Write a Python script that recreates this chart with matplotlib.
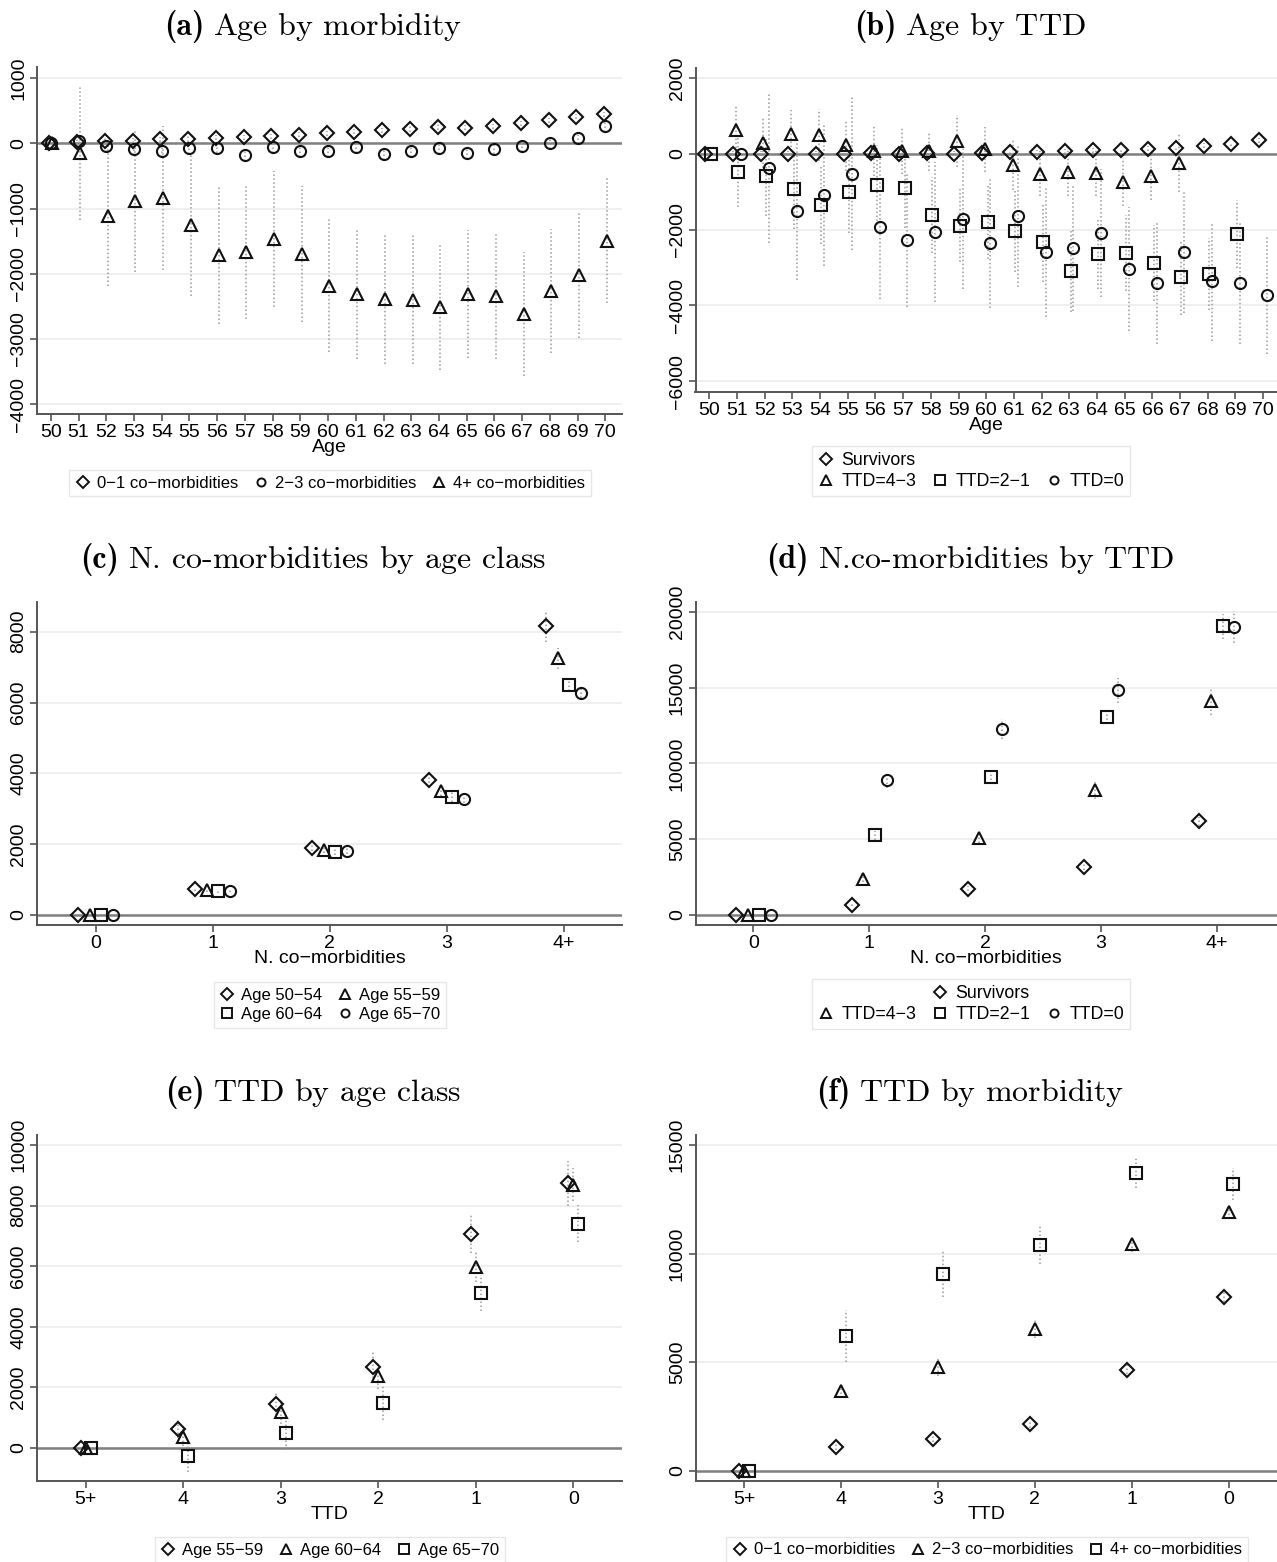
import numpy as np
import matplotlib.pyplot as plt
from matplotlib.lines import Line2D

plt.rcParams['font.family'] = ['Liberation Sans Narrow', 'Liberation Sans', 'DejaVu Sans']
plt.rcParams['mathtext.fontset'] = 'cm'

# ---------------- data ----------------
ages = np.arange(50, 71)

# (a) age by morbidity
a_low = [0, 20, 35, 40, 60, 65, 85, 90, 105, 130, 155, 180, 200, 220, 250, 240, 260, 305, 350, 410, 445]
a_low_hw = [0] + [40] * 20
a_mid = [0, 35, -45, -85, -115, -75, -65, -185, -60, -120, -115, -60, -170, -115, -75, -155, -80, -45, 5, 80, 270]
a_mid_hw = [0] + [90] * 20
a_high = [0, -150, -1120, -880, -835, -1250, -1715, -1660, -1470, -1700, -2180, -2315, -2390, -2400,
          -2510, -2310, -2335, -2615, -2265, -2025, -1490]
a_high_hw = [0, 1020, 1075, 1100, 1100, 1090, 1060, 1040, 1045, 1045, 1015, 990, 990, 990, 960, 980,
             965, 955, 955, 955, 960]

# (b) age by TTD
b_surv = [0, 0, 0, 0, 0, 0, 10, 0, 25, 0, 15, 50, 35, 60, 85, 95, 130, 155, 210, 260, 350]
b_surv_hw = [0] + [60] * 20
b_ttd43 = [np.nan, 618, 287, 513, 496, 226, 78, 70, 60, 330, 113, -296, -530, -470, -513, -748, -583, -252,
           np.nan, np.nan, np.nan]
b_ttd43_hw = [0, 670, 660, 645, 690, 670, 670, 600, 520, 680, 590, 650, 590, 640, 610, 635, 640, 765, 0, 0, 0]
b_ttd21 = [0, -470, -600, -940, -1350, -1020, -830, -915, -1610, -1900, -1790, -2040, -2340, -3090, -2640,
           -2630, -2880, -3265, -3170, -2110, np.nan]
b_ttd21_hw = [0, 930, 1045, 1050, 1035, 1060, 1050, 1050, 1000, 960, 1000, 1090, 1050, 1090, 920, 1000,
              1000, 990, 950, 900, 0]
b_ttd0 = [np.nan, 0, -390, -1522, -1088, -530, -1931, -2280, -2070, -1730, -2349, -1653, -2600, -2488, -2088,
          -3045, -3402, -2593, -3367, -3410, -3724]
b_ttd0_hw = [0, 0, 1975, 1820, 1870, 2020, 1890, 1760, 1840, 1845, 1715, 1850, 1700, 1670, 1690, 1630,
             1620, 1600, 1575, 1610, 1565]

# (c) n. co-morbidities by age class
ncm_labels = ['0', '1', '2', '3', '4+']
c_5054 = [0, 735, 1900, 3800, 8150]
c_5054_hw = [0, 60, 100, 180, 430]
c_5559 = [0, 710, 1840, 3500, 7245]
c_5559_hw = [0, 50, 80, 150, 290]
c_6064 = [0, 670, 1785, 3335, 6490]
c_6064_hw = [0, 50, 80, 130, 160]
c_6570 = [0, 690, 1800, 3285, 6280]
c_6570_hw = [0, 50, 80, 120, 150]

# (d) n. co-morbidities by TTD
d_surv = [0, 685, 1740, 3200, 6175]
d_surv_hw = [0, 100, 150, 250, 300]
d_ttd43 = [0, 2380, 5115, 8225, 14110]
d_ttd43_hw = [0, 200, 350, 550, 900]
d_ttd21 = [0, 5270, 9085, 13100, 19050]
d_ttd21_hw = [0, 300, 450, 520, 800]
d_ttd0 = [0, 8930, 12260, 14820, 18985]
d_ttd0_hw = [0, 520, 660, 800, 1050]

# (e) TTD by age class
ttd_labels = ['5+', '4', '3', '2', '1', '0']
e_5559 = [0, 640, 1465, 2675, 7070, 8735]
e_5559_hw = [0, 300, 390, 500, 630, 750]
e_6064 = [0, 375, 1190, 2390, 5975, 8690]
e_6064_hw = [0, 300, 400, 450, 500, 550]
e_6570 = [0, -255, 505, 1495, 5125, 7405]
e_6570_hw = [0, 530, 560, 560, 600, 600]

# (f) TTD by morbidity
f_low = [0, 1105, 1475, 2150, 4670, 8025]
f_low_hw = [0, 150, 150, 150, 200, 250]
f_mid = [0, 3690, 4765, 6530, 10435, 11925]
f_mid_hw = [0, 350, 400, 400, 350, 350]
f_high = [0, 6210, 9085, 10420, 13725, 13220]
f_high_hw = [0, 1180, 1080, 900, 700, 730]

# ---------------- style ----------------
W, H = 1277, 1562
INK = '#111111'
SPINE = '#555555'
MS = {'D': 7.2, 'o': 8.0, 's': 8.0, '^': 9.0}
LEG_MS = {'D': 6.2, 'o': 5.8, 's': 6.8, '^': 7.6}
MEW = 1.5
TICK_FS = 14


def frac_box(left, right, top, bottom):
    return [left / W, 1 - bottom / H, (right - left) / W, (bottom - top) / H]


def points(ax, x, y, hw, marker):
    x = np.asarray(x, float)
    y = np.asarray(y, float)
    hw = np.asarray(hw, float)
    for xi, yi, hi in zip(x, y, hw):
        if np.isnan(yi) or hi <= 0:
            continue
        ax.plot([xi, xi], [yi - hi, yi + hi], color='#9a9a9a', lw=1.1,
                ls=(0, (1, 1.6)), zorder=2)
    ok = ~np.isnan(y)
    ax.plot(x[ok], y[ok], ls='none', marker=marker, ms=MS[marker], mfc='none',
            mec=INK, mew=MEW, zorder=3)


def style(ax, xlim, ylim, yticks, xticks, xticklabels, xlabel):
    ax.set_xlim(xlim)
    ax.set_ylim(ylim)
    for s in ['top', 'right']:
        ax.spines[s].set_visible(False)
    for s in ['left', 'bottom']:
        ax.spines[s].set_color(SPINE)
        ax.spines[s].set_linewidth(1.4)
    ax.set_yticks(yticks)
    ax.set_yticklabels([f'{v:.0f}'.replace('-', '\u2212') for v in yticks],
                       rotation=90, va='center', fontsize=TICK_FS)
    ax.set_xticks(xticks)
    ax.set_xticklabels(xticklabels, fontsize=TICK_FS)
    ax.tick_params(direction='out', length=5, width=1.2, color=SPINE, pad=2)
    ax.grid(axis='y', color='#efefef', lw=1.4)
    ax.set_axisbelow(True)
    ax.axhline(0, color='#808080', lw=1.8, zorder=1.5)
    ax.set_xlabel(xlabel, fontsize=14, labelpad=-1)


def handle(marker):
    if marker is None:
        return Line2D([], [], ls='none', marker=None)
    return Line2D([], [], ls='none', marker=marker, ms=LEG_MS[marker], mfc='none', mec=INK, mew=1.4)


def legend(fig, items, cx, cy, ncol, fs=12):
    hs = [handle(m) for m, _ in items]
    ls = [l for _, l in items]
    lg = fig.legend(hs, ls, loc='center', bbox_to_anchor=(cx / W, 1 - cy / H), ncol=ncol,
                    fontsize=fs, frameon=True, fancybox=False, handlelength=0.9,
                    handletextpad=0.4, columnspacing=0.9, borderpad=0.35, labelspacing=0.25,
                    borderaxespad=0)
    lg.get_frame().set_edgecolor('#e2e2e2')
    lg.get_frame().set_linewidth(1.0)


def title(fig, cx, cy, tag, text):
    r = fig.canvas.get_renderer()
    t1 = fig.text(0, 0, '(' + tag + ')', fontfamily='cmb10', fontsize=23, va='baseline')
    t2 = fig.text(0, 0, r'$\text{' + text + '}$', fontsize=23, va='baseline')
    w1 = t1.get_window_extent(r).width
    w2 = t2.get_window_extent(r).width
    gap = 9
    x0 = cx - (w1 + gap + w2) / 2
    yb = 1 - (cy + 8) / H
    t1.set_position((x0 / W, yb))
    t2.set_position(((x0 + w1 + gap) / W, yb))


fig = plt.figure(figsize=(W / 100, H / 100), dpi=100)

# (a)
ax = fig.add_axes(frac_box(37, 622, 67, 414))
points(ax, ages - 0.05, a_low, a_low_hw, 'D')
points(ax, ages, a_mid, a_mid_hw, 'o')
points(ax, ages + 0.05, a_high, a_high_hw, '^')
style(ax, (49.5, 70.6), (-4150, 1170), [-4000, -3000, -2000, -1000, 0, 1000],
      ages, [str(a) for a in ages], 'Age')
title(fig, 313, 27, 'a', 'Age by morbidity')
legend(fig, [('D', '0\u22121 co\u2212morbidities'), ('o', '2\u22123 co\u2212morbidities'),
             ('^', '4+ co\u2212morbidities')], 330, 483, 3)

# (b)
ax = fig.add_axes(frac_box(695.5, 1277, 68, 392))
points(ax, ages - 0.15, b_surv, b_surv_hw, 'D')
points(ax, ages - 0.05, b_ttd43, b_ttd43_hw, '^')
points(ax, ages + 0.05, b_ttd21, b_ttd21_hw, 's')
points(ax, ages + 0.15, b_ttd0, b_ttd0_hw, 'o')
style(ax, (49.5, 70.5), (-6285, 2260), [-6000, -4000, -2000, 0, 2000],
      ages, [str(a) for a in ages], 'Age')
title(fig, 970, 27, 'b', 'Age by TTD')
legend(fig, [('D', 'Survivors'), ('^', 'TTD=4\u22123'), (None, ''), ('s', 'TTD=2\u22121'),
             (None, ''), ('o', 'TTD=0')], 971, 471, 3, fs=12.8)

# (c)
xc = np.arange(len(ncm_labels))
ax = fig.add_axes(frac_box(37, 622, 602, 925))
points(ax, xc - 0.15, c_5054, c_5054_hw, 'D')
points(ax, xc - 0.05, c_5559, c_5559_hw, '^')
points(ax, xc + 0.05, c_6064, c_6064_hw, 's')
points(ax, xc + 0.15, c_6570, c_6570_hw, 'o')
style(ax, (-0.5, 4.5), (-283, 8840), [0, 2000, 4000, 6000, 8000],
      xc, ncm_labels, 'N. co\u2212morbidities')
title(fig, 313, 560, 'c', 'N. co-morbidities by age class')
legend(fig, [('D', 'Age 50\u221254'), ('s', 'Age 60\u221264'), ('^', 'Age 55\u221259'),
             ('o', 'Age 65\u221270')], 330, 1005, 2)

# (d)
ax = fig.add_axes(frac_box(695.5, 1277, 602, 925))
points(ax, xc - 0.15, d_surv, d_surv_hw, 'D')
points(ax, xc - 0.05, d_ttd43, d_ttd43_hw, '^')
points(ax, xc + 0.05, d_ttd21, d_ttd21_hw, 's')
points(ax, xc + 0.15, d_ttd0, d_ttd0_hw, 'o')
style(ax, (-0.5, 4.52), (-660, 20660), [0, 5000, 10000, 15000, 20000],
      xc, ncm_labels, 'N. co\u2212morbidities')
title(fig, 970, 560, 'd', 'N.co-morbidities by TTD')
legend(fig, [(None, ''), ('^', 'TTD=4\u22123'), ('D', 'Survivors'), ('s', 'TTD=2\u22121'),
             (None, ''), ('o', 'TTD=0')], 971, 1004, 3, fs=12.8)

# (e)
xt = np.arange(len(ttd_labels))
ax = fig.add_axes(frac_box(37, 622, 1135, 1481))
points(ax, xt - 0.05, e_5559, e_5559_hw, 'D')
points(ax, xt, e_6064, e_6064_hw, '^')
points(ax, xt + 0.05, e_6570, e_6570_hw, 's')
style(ax, (-0.5, 5.5), (-1090, 10330), [0, 2000, 4000, 6000, 8000, 10000],
      xt, ttd_labels, 'TTD')
title(fig, 313, 1093, 'e', 'TTD by age class')
legend(fig, [('D', 'Age 55\u221259'), ('^', 'Age 60\u221264'), ('s', 'Age 65\u221270')],
       330, 1550, 3)

# (f)
ax = fig.add_axes(frac_box(695.5, 1277, 1135, 1481))
points(ax, xt - 0.05, f_low, f_low_hw, 'D')
points(ax, xt, f_mid, f_mid_hw, '^')
points(ax, xt + 0.05, f_high, f_high_hw, 's')
style(ax, (-0.5, 5.5), (-460, 15460), [0, 5000, 10000, 15000],
      xt, ttd_labels, 'TTD')
title(fig, 970, 1093, 'f', 'TTD by morbidity')
legend(fig, [('D', '0\u22121 co\u2212morbidities'), ('^', '2\u22123 co\u2212morbidities'),
             ('s', '4+ co\u2212morbidities')], 987, 1550, 3)

fig.savefig('out.png', dpi=100)
